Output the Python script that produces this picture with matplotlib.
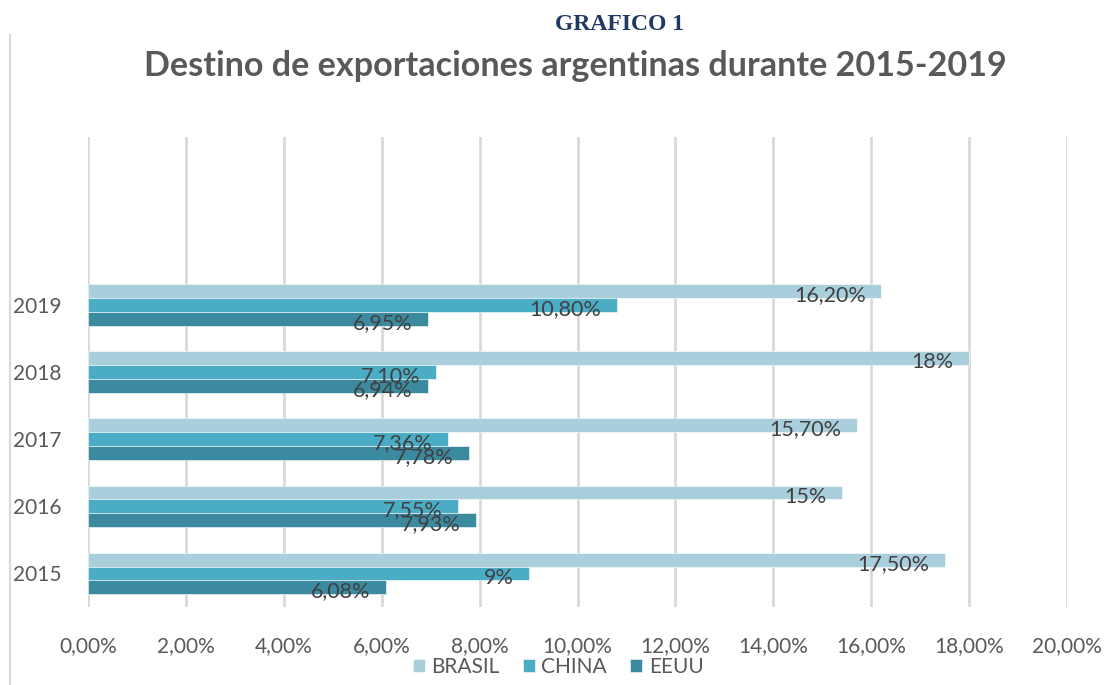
import matplotlib.pyplot as plt
import numpy as np
from matplotlib.lines import Line2D

# datos del grafico
years = ["2015", "2016", "2017", "2018", "2019"]
series = ["BRASIL", "CHINA", "EEUU"]
brasil = [17.5, 15.4, 15.7, 18.0, 16.2]
china = [9.0, 7.55, 7.36, 7.10, 10.80]
eeuu = [6.08, 7.93, 7.78, 6.94, 6.95]
brasil_lbl = ["17,50%", "15%", "15,70%", "18%", "16,20%"]
china_lbl = ["9%", "7,55%", "7,36%", "7,10%", "10,80%"]
eeuu_lbl = ["6,08%", "7,93%", "7,78%", "6,94%", "6,95%"]
xticks = [0, 2, 4, 6, 8, 10, 12, 14, 16, 18, 20]
xtick_lbl = ["0,00%", "2,00%", "4,00%", "6,00%", "8,00%", "10,00%",
             "12,00%", "14,00%", "16,00%", "18,00%", "20,00%"]

colors = ["#AACFDC", "#4BACC6", "#3C8AA0"]
txt_gray = "#595959"
lbl_gray = "#404040"

plt.rcParams['font.family'] = ['Lato', 'DejaVu Sans']

fig = plt.figure(figsize=(11.08, 6.85), dpi=100)
ax = fig.add_axes([88/1108, 1-607/685, (1067-88)/1108, (607-137)/685])

y = np.arange(len(years))
h = 0.205
offsets = [h, 0, -h]
values = [brasil, china, eeuu]
labels = [brasil_lbl, china_lbl, eeuu_lbl]

for vals, lbls, off, col, name in zip(values, labels, offsets, colors, series):
    ax.barh(y + off, vals, height=h, color=col, label=name, zorder=2,
            edgecolor="white", linewidth=0.4)
    for yi, v, t in zip(y, vals, lbls):
        ax.annotate(t, (v, yi + off), xytext=(-11, -3), textcoords="offset points",
                    ha="right", va="center", fontsize=15.5, color=lbl_gray, zorder=3)

ax.set_xlim(0, 20)
ax.set_ylim(-0.5, 6.5)
ax.set_xticks(xticks)
ax.set_xticklabels(xtick_lbl, fontsize=15, color=txt_gray)
ax.set_yticks(y)
ax.set_yticklabels(years, fontsize=15, color=txt_gray)
ax.tick_params(axis="both", length=0)
ax.tick_params(axis="x", pad=21)
ax.tick_params(axis="y", pad=19)
ax.grid(axis="x", color="#D9D9D9", linewidth=2, zorder=0)
for s in ax.spines.values():
    s.set_visible(False)

fig.text(620/1108, 1-24/685, "GRAFICO 1", ha="center", va="center",
         fontsize=17, fontweight="bold", color="#1F3864", family="Liberation Serif")
fig.text(575/1108, 1-66/685, "Destino de exportaciones argentinas durante 2015-2019",
         ha="center", va="center", fontsize=24.6, fontweight="bold", color=txt_gray)

fig.add_artist(Line2D([10/1108, 10/1108], [0, 1-35/685], color="#D9D9D9", linewidth=1.5))

leg = fig.legend(loc="center", bbox_to_anchor=(558/1108, 1-667/685), ncol=3, frameon=False,
                 fontsize=15, handlelength=0.6, handleheight=0.6, handletextpad=0.3,
                 columnspacing=1.1)
for t in leg.get_texts():
    t.set_color(txt_gray)

fig.savefig("out.png", dpi=100)
